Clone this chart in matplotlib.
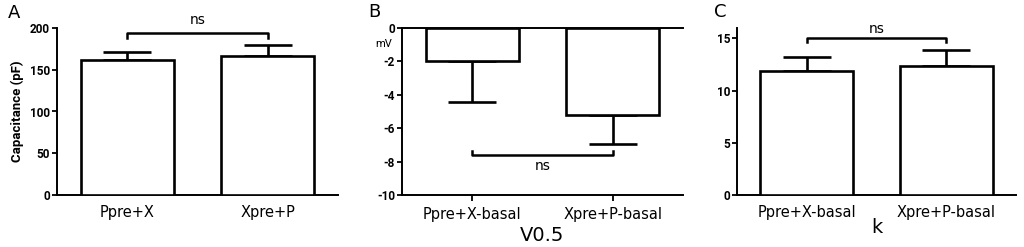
import numpy as np
import matplotlib
matplotlib.use('Agg')
import matplotlib.pyplot as plt

plt.rcParams['font.family'] = ['DejaVu Sans']

# panel A: capacitance
cap_groups = ['Ppre+X', 'Xpre+P']
cap_mean = [162, 166]
cap_err = [9.5, 14]

# panel B: V0.5 shift
v_groups = ['Ppre+X-basal', 'Xpre+P-basal']
v_mean = [-1.95, -5.2]
v_err = [2.5, 1.75]

# panel C: k
k_groups = ['Ppre+X-basal', 'Xpre+P-basal']
k_mean = [11.9, 12.35]
k_err = [1.3, 1.5]

W, H = 1024, 247
fig = plt.figure(figsize=(W / 100, H / 100), dpi=100)

bot = 1 - 195 / H
top = 1 - 28 / H
axA = fig.add_axes([57 / W, bot, (338 - 57) / W, top - bot])
axB = fig.add_axes([402 / W, bot, (683 - 402) / W, top - bot])
axC = fig.add_axes([737 / W, bot, (1016 - 737) / W, top - bot])

boldfont = dict(family='Roboto', weight='bold', stretch='normal')


def draw(ax, groups, mean, err, ylim, yticks, xtick_len):
    x = np.arange(len(groups))
    ax.bar(x, mean, width=0.665, color='white', edgecolor='black', linewidth=1.9, zorder=3)
    lo = [0 if m > 0 else e for m, e in zip(mean, err)]
    hi = [e if m > 0 else 0 for m, e in zip(mean, err)]
    ax.errorbar(x, mean, yerr=[lo, hi], fmt='none', ecolor='black', elinewidth=1.9,
                capsize=17, capthick=1.9, zorder=2)
    ax.set_xlim(-0.5, 1.5)
    ax.set_ylim(*ylim)
    ax.set_yticks(yticks, labels=[str(t) for t in yticks], fontsize=8.5, **boldfont)
    ax.set_xticks(x, labels=groups, fontsize=10.5)
    ax.tick_params(axis='y', length=3.5, width=1.3, pad=1.5)
    ax.tick_params(axis='x', length=xtick_len, width=1.3, pad=7 - xtick_len * 0.6)
    for s in ['left', 'bottom', 'top', 'right']:
        ax.spines[s].set_linewidth(1.4)
    ax.spines['right'].set_visible(False)
    ax.spines['top'].set_visible(False)


def bracket(ax, x0, x1, y, dy, label, ty):
    ax.plot([x0, x0, x1, x1], [y + dy, y, y, y + dy], color='black', lw=1.8,
            clip_on=False, zorder=4)
    ax.text((x0 + x1) / 2, ty, label, ha='center', va='center', fontsize=10, clip_on=False)


draw(axA, cap_groups, cap_mean, cap_err, (0, 200), [0, 50, 100, 150, 200], 0)
axA.set_ylabel('Capacitance (pF)', fontsize=9.5, labelpad=4, **boldfont)
bracket(axA, 0, 1, 194, -6, 'ns', 209)

draw(axB, v_groups, v_mean, v_err, (-10, 0), [0, -2, -4, -6, -8, -10], 4)
axB.spines['top'].set_visible(True)
axB.set_xlabel('V0.5', fontsize=14, labelpad=3)
axB.text(-0.065, 0.905, 'mV', transform=axB.transAxes, ha='center', va='center',
         family='Roboto', fontsize=8)
bracket(axB, 0, 1, -7.6, 0.25, 'ns', -8.25)

draw(axC, k_groups, k_mean, k_err, (0, 16), [0, 5, 10, 15], 0)
axC.set_xlabel('k', fontsize=14, labelpad=-1)
bracket(axC, 0, 1, 15.05, -0.4, 'ns', 15.95)

fig.text(14 / W, 1 - 13 / H, 'A', fontsize=13, ha='center', va='center')
fig.text(374 / W, 1 - 12 / H, 'B', fontsize=13, ha='center', va='center')
fig.text(720 / W, 1 - 12 / H, 'C', fontsize=13, ha='center', va='center')

fig.savefig('out.png', dpi=100)
